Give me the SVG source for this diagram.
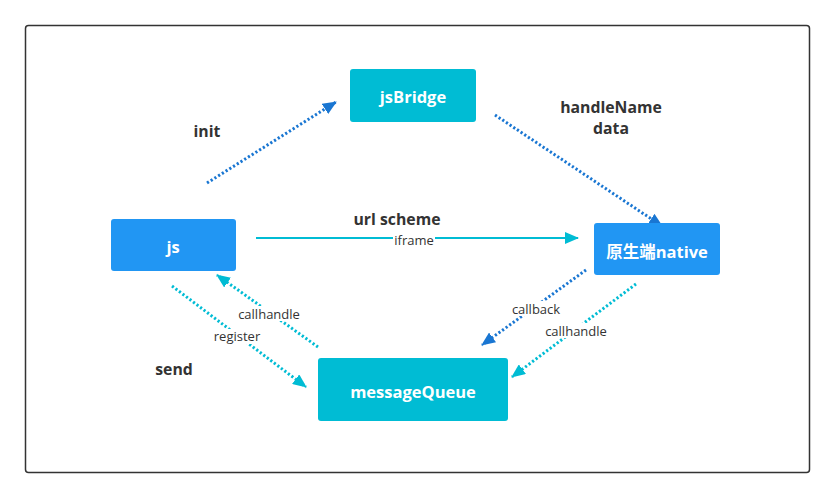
<svg xmlns="http://www.w3.org/2000/svg" width="835" height="499" viewBox="0 0 835 499">
<style>
.node-b{fill:#2196f3}
.node-c{fill:#00bcd4}
.nt{font-family:"Open Sans","Noto Sans CJK SC",sans-serif;font-size:16.5px;font-weight:bold;fill:#fff;text-anchor:middle;dominant-baseline:central}
.lb{font-family:"Open Sans","Noto Sans CJK SC",sans-serif;font-size:15.8px;font-weight:bold;fill:#333;text-anchor:middle;dominant-baseline:central}
.sl{font-family:"Open Sans",sans-serif;font-size:13px;fill:#333;text-anchor:middle;dominant-baseline:central}
.dotb{stroke:#1976d2;stroke-width:3;stroke-dasharray:2.2 2.2;fill:none}
.dotc{stroke:#00bcd4;stroke-width:3;stroke-dasharray:2.2 2.2;fill:none}
.solc{stroke:#00bcd4;stroke-width:2;fill:none}
</style>
<defs>
<marker id="ab" markerWidth="14" markerHeight="12" refX="13" refY="6" orient="auto" markerUnits="userSpaceOnUse"><path d="M0,0 L14,6 L0,12 Z" fill="#1976d2"/></marker>
<marker id="ac" markerWidth="14" markerHeight="12" refX="13" refY="6" orient="auto" markerUnits="userSpaceOnUse"><path d="M0,0 L14,6 L0,12 Z" fill="#00bcd4"/></marker>
</defs>
<rect width="835" height="499" fill="#fff"/>
<rect x="25.5" y="25.5" width="784" height="447" rx="3" fill="#fff" stroke="#333" stroke-width="1.5"/>
<g id="connectors">
<line class="dotb" x1="207" y1="183" x2="336" y2="102" marker-end="url(#ab)"/>
<line class="dotb" x1="495" y1="115" x2="662" y2="226" marker-end="url(#ab)"/>
<line class="solc" x1="256" y1="238" x2="578" y2="238" marker-end="url(#ac)"/>
<line class="dotc" x1="172" y1="286" x2="306" y2="387" marker-end="url(#ac)"/>
<line class="dotc" x1="318" y1="347" x2="217" y2="275" marker-end="url(#ac)"/>
<line class="dotb" x1="586" y1="270" x2="482" y2="345" marker-end="url(#ab)"/>
<line class="dotc" x1="636" y1="284" x2="512" y2="377" marker-end="url(#ac)"/>
<text class="lb" x="207" y="131">init</text>
<text class="lb" x="611" y="107">handleName</text>
<text class="lb" x="611" y="128">data</text>
<text class="lb" x="397" y="219">url scheme</text>
<rect x="393" y="232" width="42" height="14" fill="#fff"/>
<text class="sl" x="414" y="240">iframe</text>
<text class="lb" x="174" y="369">send</text>
<rect x="237" y="306" width="64" height="15" fill="#fff"/>
<text class="sl" x="269" y="314">callhandle</text>
<rect x="212" y="329" width="50" height="15" fill="#fff"/>
<text class="sl" x="237" y="336">register</text>
<rect x="510" y="301" width="53" height="15" fill="#fff"/>
<text class="sl" x="536" y="309">callback</text>
<rect x="544" y="323" width="64" height="15" fill="#fff"/>
<text class="sl" x="576" y="331">callhandle</text>
</g>
<g id="jsBridge"><rect class="node-c" x="350" y="69" width="126" height="53" rx="3"/><text class="nt" x="413" y="96">jsBridge</text></g>
<g id="js"><rect class="node-b" x="111" y="219" width="125" height="52" rx="3"/><text class="nt" x="173" y="246">js</text></g>
<g id="native"><rect class="node-b" x="594" y="223" width="126" height="52" rx="3"/><text class="nt" x="657" y="251">原生端native</text></g>
<g id="messageQueue"><rect class="node-c" x="318" y="358" width="190" height="63" rx="3"/><text class="nt" x="413" y="391">messageQueue</text></g>
</svg>
